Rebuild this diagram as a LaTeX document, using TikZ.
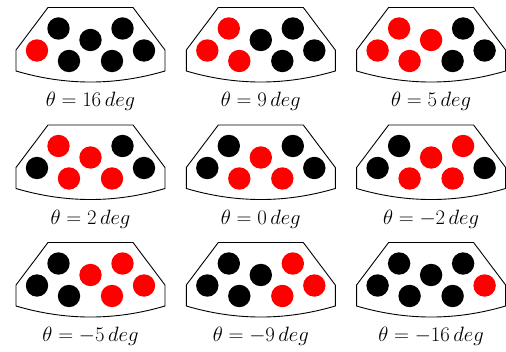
\documentclass[tikz,border=0pt]{standalone}
\tikzset{
  ball/.style={circle,minimum size=22.4pt,inner sep=0pt},
  housing/.style={draw,line width=0.9pt,line join=miter},
  lab/.style={anchor=base,inner sep=0pt,font=\fontsize{21.8}{26}\selectfont}
}
\begin{document}
\begin{tikzpicture}[x=1pt,y=-1pt]
\useasboundingbox (0,0) rectangle (506,352);
\foreach \ang/\lo/\hi [count=\i from 0] in
  {16/1/1, 9/1/3, 5/1/4, 2/2/5, 0/3/5, -2/3/6, -5/4/7, -9/5/7, -16/7/7}{
  \pgfmathtruncatemacro\row{int(\i/3)}
  \pgfmathtruncatemacro\col{mod(\i,3)}
  \pgfmathsetmacro\cx{90.5+170.3*\col}
  \pgfmathsetmacro\cy{117.5*\row}
  \begin{scope}[shift={(\cx,\cy)}]
    \draw[housing] (-42.5,7.5) -- (42.5,7.5) -- (74.5,50) -- (74.5,71)
      .. controls (24.8,85.7) and (-24.8,85.7) .. (-74.5,71) -- (-74.5,50) -- cycle;
    \foreach \k/\dx/\dy in {1/-53.5/50.5, 2/-32/28.5, 3/-21.5/61, 4/0/40,
                            5/21.5/61, 6/32/28.5, 7/53.5/50.5}{
      \ifnum\k<\lo \def\bc{black}\else\ifnum\k>\hi \def\bc{black}\else\def\bc{red}\fi\fi
      \node[ball,fill=\bc] (b\i-\k) at (\dx,\dy) {};
    }
    \node[lab] (l\i) at (0,106.7) {$\theta=\ang\,deg$};
  \end{scope}
}
\end{tikzpicture}
\end{document}
